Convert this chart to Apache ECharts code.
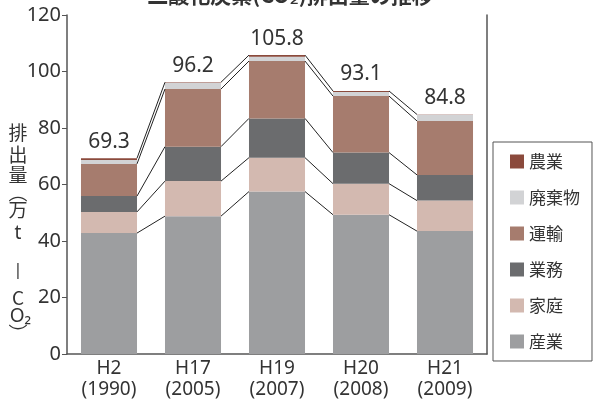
<!DOCTYPE html>
<html>
<head>
<meta charset="utf-8">
<script src="https://cdn.jsdelivr.net/npm/echarts@6/dist/echarts.min.js"></script>
<style>
  html, body { margin: 0; padding: 0; background: #fff; }
  #chart { width: 598px; height: 404px; }
</style>
</head>
<body>
<div id="chart"></div>
<script>
const categories = ['H2\n(1990)', 'H17\n(2005)', 'H19\n(2007)', 'H20\n(2008)', 'H21\n(2009)']
const totals = [69.3, 96.2, 105.8, 93.1, 84.8]

// bottom -> top
const sangyo   = [42.8, 48.8, 57.5, 49.3, 43.5]  // 産業
const katei    = [7.5, 12.4, 12.0, 11.0, 10.8]   // 家庭
const gyomu    = [5.6, 12.2, 13.9, 11.0, 9.1]    // 業務
const unyu     = [11.4, 20.4, 20.3, 20.0, 19.1]  // 運輸
const haikibutsu = [1.4, 2.2, 1.5, 1.4, 2.2]     // 廃棄物
const nogyo    = [0.6, 0.2, 0.6, 0.4, 0.1]       // 農業

const yTicks = { min: 0, max: 120, interval: 20 }

const FONT = "'Noto Sans', 'Noto Sans CJK JP', sans-serif"
const CJK = "'Noto Sans CJK JP', sans-serif"

const layers = [
  { name: '産業', data: sangyo, color: '#9d9ea0' },
  { name: '家庭', data: katei, color: '#d3b9b0' },
  { name: '業務', data: gyomu, color: '#6b6c6e' },
  { name: '運輸', data: unyu, color: '#a67c6e' },
  { name: '廃棄物', data: haikibutsu, color: '#d2d3d5' },
  { name: '農業', data: nogyo, color: '#8b4a3c' },
]

// cumulative tops for the connector lines (産業, 家庭, 業務, 運輸, total)
const cum = []
let run = categories.map(() => 0)
layers.forEach(l => {
  run = run.map((v, i) => v + l.data[i])
  cum.push(run.slice())
})
const linkLevels = [cum[0], cum[1], cum[2], cum[3], cum[5]]
const linkData = []
linkLevels.forEach(lv => {
  for (let i = 0; i < lv.length - 1; i++) linkData.push([i, lv[i], lv[i + 1]])
})

const chart = echarts.init(document.getElementById('chart'))

const barSeries = layers.map((l, idx) => ({
  name: l.name,
  type: 'bar',
  stack: 'total',
  barWidth: '66.7%',
  data: l.data,
  itemStyle: { color: l.color },
  label: idx === layers.length - 1 ? {
    show: true,
    position: 'top',
    distance: 6,
    formatter: p => totals[p.dataIndex].toFixed(1),
    fontFamily: FONT,
    fontSize: 21,
    color: '#333',
  } : { show: false },
}))

chart.setOption({
  animation: false,
  grid: { left: 67, right: 111, top: 15, bottom: 50 },
  legend: {
    orient: 'vertical',
    left: 493,
    top: 142,
    data: ['農業', '廃棄物', '運輸', '業務', '家庭', '産業'],
    icon: 'rect',
    itemWidth: 14,
    itemHeight: 14,
    itemGap: 19,
    borderColor: '#555',
    borderWidth: 1,
    padding: [11, 12, 11, 17],
    textStyle: { fontFamily: CJK, fontSize: 17, color: '#333' },
  },
  xAxis: {
    type: 'category',
    data: categories,
    axisLine: { lineStyle: { color: '#555', width: 1.5 } },
    axisTick: { inside: true, length: 6, lineStyle: { color: '#555' } },
    axisLabel: { fontFamily: FONT, fontSize: 19, lineHeight: 21, color: '#333', margin: 4 },
  },
  yAxis: [{
    type: 'value',
    min: yTicks.min,
    max: yTicks.max,
    interval: yTicks.interval,
    splitLine: { show: false },
    axisLine: { show: true, lineStyle: { color: '#555', width: 1.5 } },
    axisTick: { show: true, length: 5, lineStyle: { color: '#555' } },
    axisLabel: { fontFamily: FONT, fontSize: 20, color: '#333', margin: 6 },
  }, {
    type: 'value',
    position: 'right',
    min: yTicks.min,
    max: yTicks.max,
    splitLine: { show: false },
    axisLine: { show: true, lineStyle: { color: '#555', width: 1.5 } },
    axisTick: { show: false },
    axisLabel: { show: false },
  }],
  graphic: [
    {
      type: 'text',
      x: 290,
      y: -15,
      style: {
        text: '二酸化炭素(CO₂)排出量の推移',
        align: 'center',
        verticalAlign: 'top',
        fontFamily: CJK, fontSize: 21, fontWeight: 'bold', fill: '#333',
      },
    },
    {
      type: 'text',
      x: 18,
      y: 122,
      style: {
        text: '{a|排}\n{a|出}\n{b|量}\n{b|︵}\n{c|万}\n{d|t}\n{e||}\n{c|C}\n{f| O₂}\n{g|︶}',
        align: 'center',
        fill: '#333',
        fontFamily: CJK,
        fontSize: 19,
        rich: {
          a: { lineHeight: 22, fontSize: 19, fontFamily: CJK },
          b: { lineHeight: 18, fontSize: 19, fontFamily: CJK },
          c: { lineHeight: 16, fontSize: 19, fontFamily: CJK },
          d: { lineHeight: 32, fontSize: 19, fontFamily: FONT },
          e: { lineHeight: 40, fontSize: 17, fontFamily: FONT },
          f: { lineHeight: 22, fontSize: 19, fontFamily: FONT },
          g: { lineHeight: 12, fontSize: 19, fontFamily: CJK },
        },
      },
    },
  ],
  series: [
    ...barSeries,
    {
      name: 'link',
      type: 'custom',
      z: 5,
      silent: true,
      encode: { x: 0, y: [1, 2] },
      data: linkData,
      renderItem: (params, api) => {
        const a = api.coord([api.value(0), api.value(1)])
        const b = api.coord([api.value(0) + 1, api.value(2)])
        const half = api.size([1, 0])[0] * 0.3335
        return {
          type: 'line',
          shape: { x1: a[0] + half, y1: a[1], x2: b[0] - half, y2: b[1] },
          style: { stroke: '#222', lineWidth: 1 },
        }
      },
    },
  ],
})
</script>
</body>
</html>
